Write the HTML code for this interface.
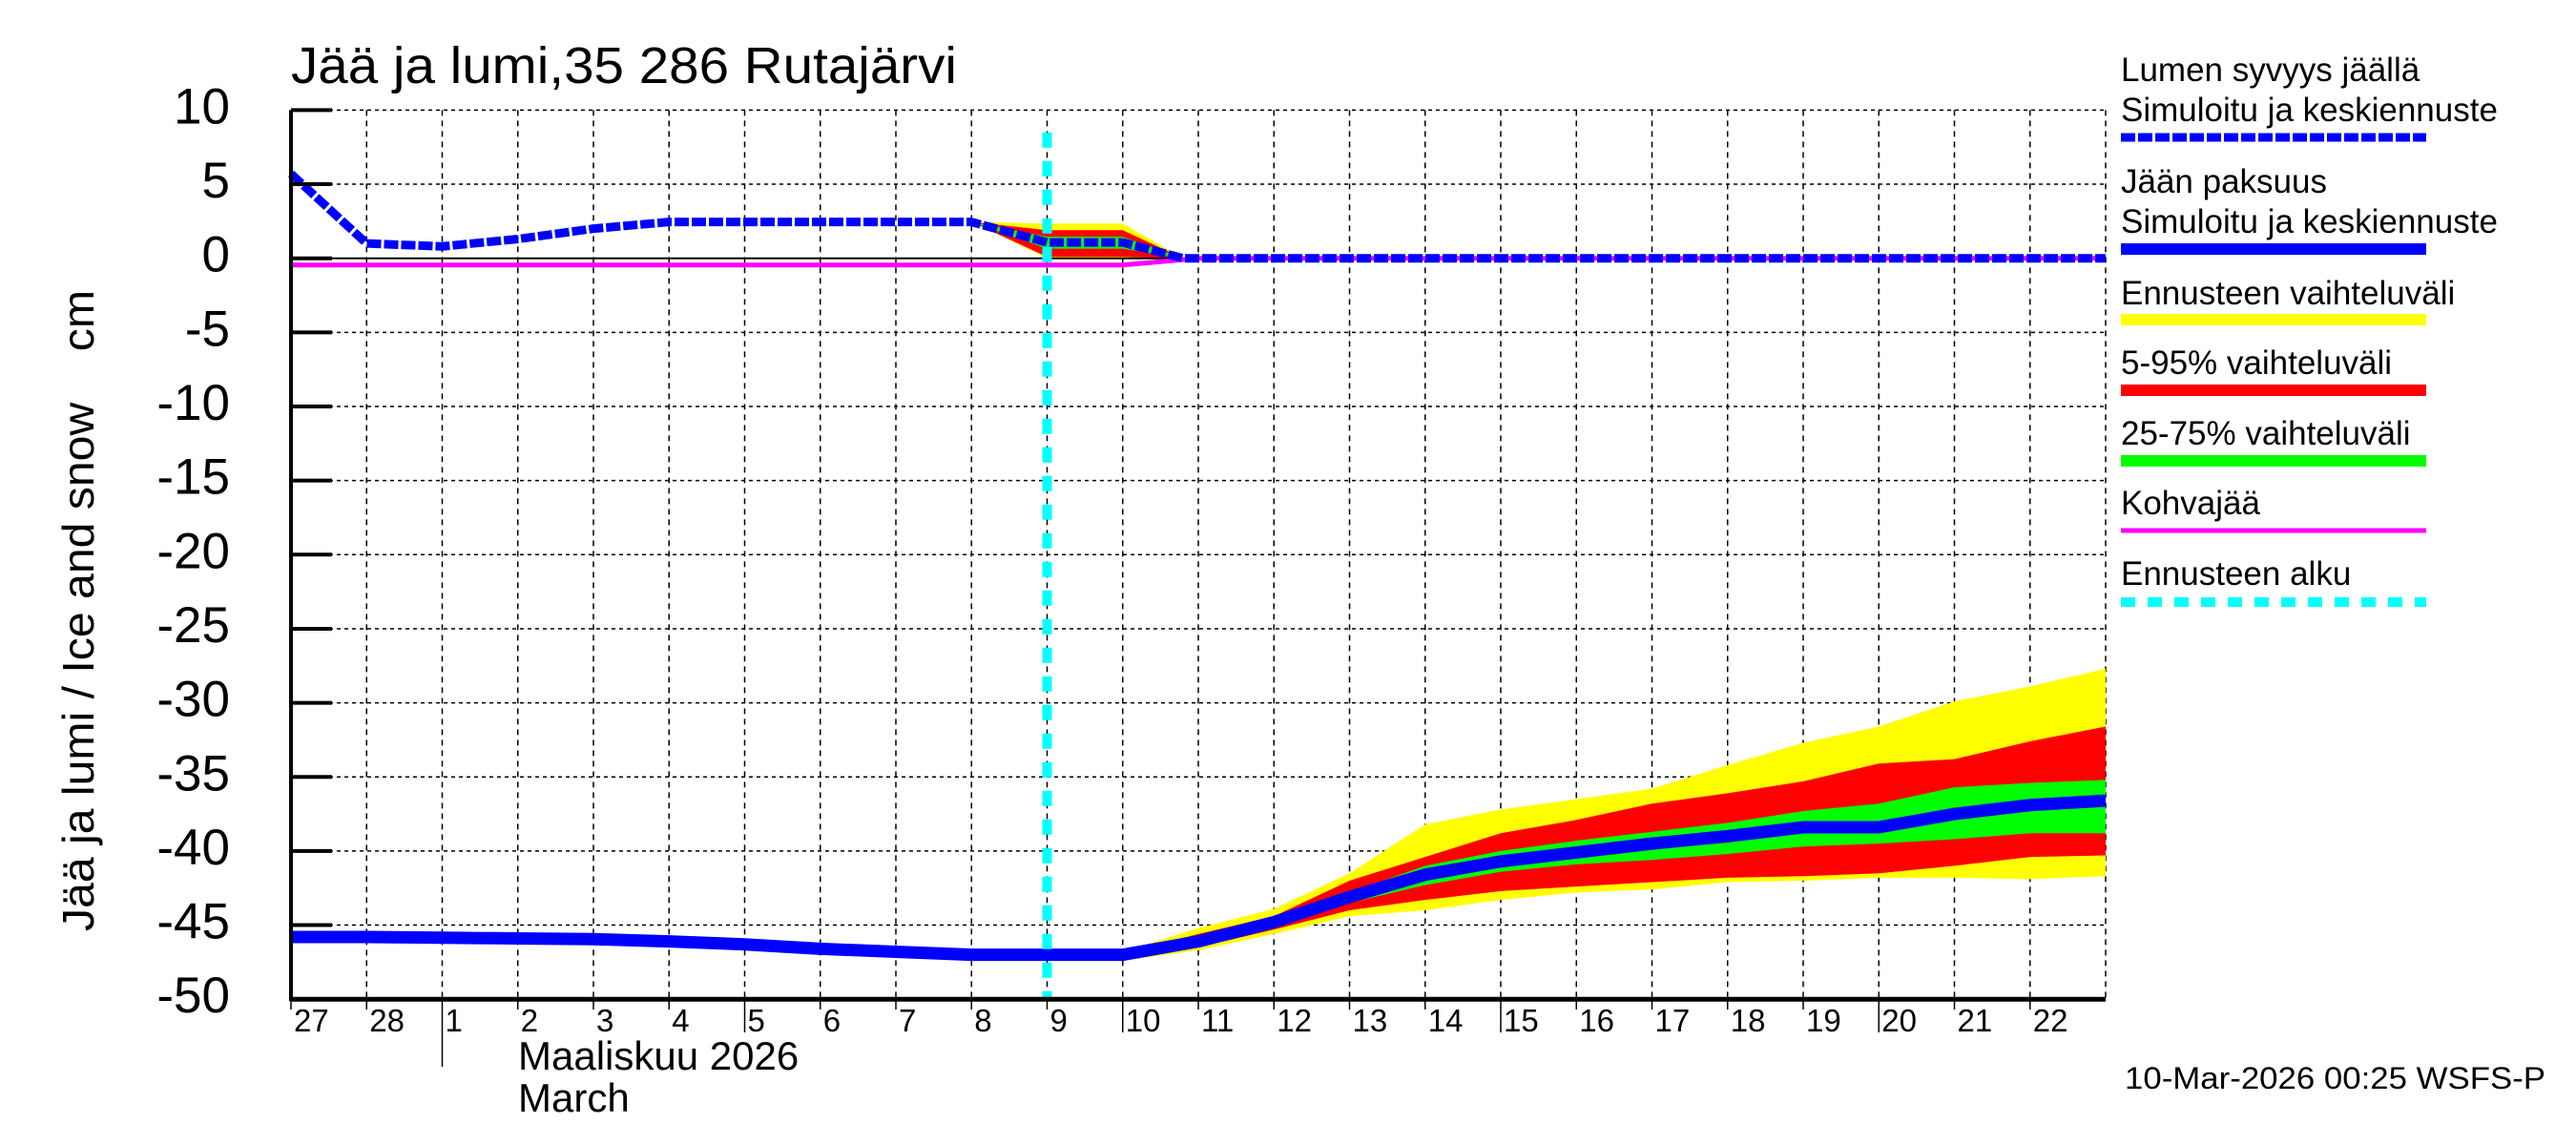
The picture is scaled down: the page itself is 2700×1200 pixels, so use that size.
<!DOCTYPE html>
<html><head><meta charset="utf-8"><style>
html,body{margin:0;padding:0;background:#fff;}
svg{display:block;}
text{font-family:"Liberation Sans",sans-serif;fill:#000;}
</style></head><body>
<svg id="chart" width="2700" height="1200" viewBox="0 0 2700 1200" xmlns="http://www.w3.org/2000/svg">
<text x="305" y="87" font-size="54" textLength="698" lengthAdjust="spacingAndGlyphs">Jää ja lumi,35 286 Rutajärvi</text>
<text transform="translate(98,640) rotate(-90)" text-anchor="middle" font-size="46" textLength="672" lengthAdjust="spacingAndGlyphs" xml:space="preserve">Jää ja lumi / Ice and snow    cm</text>
<g id="grid"></g>
<g id="bands"></g>
<g id="lines"></g>
<g id="axes"></g>
<g id="legend"></g>
<text x="2227" y="1141" font-size="32" textLength="441" lengthAdjust="spacingAndGlyphs">10-Mar-2026 00:25 WSFS-P</text>
</svg>
<script>
const dayLabels=["27","28","1","2","3","4","5","6","7","8","9","10","11","12","13","14","15","16","17","18","19","20","21","22"];
const yTicks=[10,5,0,-5,-10,-15,-20,-25,-30,-35,-40,-45,-50];
// snow depth on ice (days since Feb 27 00:00)
const snowT=[0,1,2,3,4,5,6,7,8,9,10,11,11.8,24];
const snowV=[5.7,1.0,0.8,1.3,2.0,2.45,2.45,2.45,2.45,2.45,1.07,1.07,0,0];
const snowBandT=[9,10,11,11.8];
const snowYelTop=[2.45,2.35,2.35,0];
const snowYelBot=[2.45,0,0,0];
const snowRedTop=[2.45,1.9,1.9,0];
const snowRedBot=[2.45,0.1,0.1,0];
const snowGrnTop=[2.45,1.45,1.45,0];
const snowGrnBot=[2.45,0.65,0.65,0];
// slush ice
const kohvaT=[0,11,12,24];
const kohvaV=[-0.45,-0.45,0,0];
// ice thickness (negative down)
const iceT=[0,1,2,3,4,5,6,7,8,9,10,11,12,13,14,15,16,17,18,19,20,21,22,23,24];
const iceV=[-45.8,-45.8,-45.85,-45.9,-45.95,-46.1,-46.3,-46.6,-46.8,-47.0,-47.0,-47.0,-46.1,-44.8,-43.1,-41.6,-40.7,-40.1,-39.5,-39.0,-38.4,-38.4,-37.5,-36.9,-36.6];
const bandT=[11,12,13,14,15,16,17,18,19,20,21,22,23,24];
const yelTop=[-46.8,-45.2,-43.9,-41.5,-38.2,-37.2,-36.5,-35.8,-34.2,-32.7,-31.6,-29.9,-28.9,-27.7];
const redTop=[-46.9,-45.6,-44.4,-42.0,-40.4,-38.8,-37.9,-36.8,-36.1,-35.3,-34.1,-33.8,-32.6,-31.6];
const grnTop=[-47.0,-45.8,-44.6,-42.8,-41.0,-40.0,-39.3,-38.7,-38.1,-37.3,-36.8,-35.7,-35.4,-35.2];
const grnBot=[-47.2,-46.3,-45.1,-43.5,-42.3,-41.4,-40.9,-40.6,-40.2,-39.7,-39.5,-39.2,-38.8,-38.8];
const redBot=[-47.3,-46.5,-45.3,-44.0,-43.3,-42.7,-42.4,-42.1,-41.8,-41.7,-41.5,-41.0,-40.4,-40.3];
const yelBot=[-47.4,-46.7,-45.6,-44.4,-44.0,-43.3,-42.8,-42.6,-42.1,-42.0,-41.8,-41.8,-41.9,-41.7];
const forecastStart=10;

const X0=305,X1=2207,Y10=115.4,PER=15.53,NDAYS=24;
const xs=t=>X0+(X1-X0)*t/NDAYS;
const ys=v=>Y10+(10-v)*PER;
const NS="http://www.w3.org/2000/svg";
function mk(tag,parent,attrs){const e=document.createElementNS(NS,tag);for(const k in attrs)e.setAttribute(k,attrs[k]);parent.appendChild(e);return e;}
const grid=document.getElementById('grid'),bands=document.getElementById('bands'),lines=document.getElementById('lines'),axes=document.getElementById('axes'),legend=document.getElementById('legend');

// grid
yTicks.forEach(v=>{
  if(v!==-50&&v!==0){const l=mk('line',grid,{x1:X0,x2:X1,y1:ys(v),y2:ys(v),stroke:'#000','stroke-width':1.5,'stroke-dasharray':'4,4'});
  
  }
  const tk=mk('line',axes,{x1:X0,x2:X0+43,y1:ys(v),y2:ys(v),stroke:'#000','stroke-width':4});
  
  
  const t=mk('text',axes,{x:241,y:ys(v)+14,'text-anchor':'end','font-size':53});
  t.textContent=String(v);
  
  
});
for(let d=1;d<=NDAYS;d++){
  const l=mk('line',grid,{x1:xs(d),x2:xs(d),y1:ys(10),y2:ys(-50),stroke:'#000','stroke-width':1.5,'stroke-dasharray':'6,5'});
  
  
}
dayLabels.forEach((s,i)=>{
  const t=mk('text',axes,{x:xs(i)+3,y:1081,'font-size':33});
  t.textContent=s;
  
  
  const long=(s==="5"||s==="10"||s==="15"||s==="20")&&i>1;
  const tk=mk('line',axes,{x1:xs(i),x2:xs(i),y1:ys(-50),y2:s==="1"?1118:(long?1082:1058),stroke:'#000','stroke-width':1.5});
  
  
});
const m1=mk('text',axes,{x:543,y:1121,'font-size':42});m1.textContent='Maaliskuu 2026';


const m2=mk('text',axes,{x:543,y:1165,'font-size':42});m2.textContent='March';



function band(T,top,bot,col,name){
  let d='M'+T.map((t,i)=>xs(t)+','+ys(top[i])).join(' L');
  for(let i=T.length-1;i>=0;i--)d+=' L'+xs(T[i])+','+ys(bot[i]);
  const p=mk('path',bands,{d:d+'Z',fill:col});
  
  
}
band(bandT,yelTop,yelBot,'#ffff00','ice-band-yellow');
band(bandT,redTop,redBot,'#ff0000','ice-band-red');
band(bandT,grnTop,grnBot,'#00ff00','ice-band-green');
band(snowBandT,snowYelTop,snowYelBot,'#ffff00','snow-band-yellow');
band(snowBandT,snowRedTop,snowRedBot,'#ff0000','snow-band-red');
band(snowBandT,snowGrnTop,snowGrnBot,'#00ff00','snow-band-green');

function line(T,V,attrs,name){
  const p=mk('polyline',lines,Object.assign({points:T.map((t,i)=>xs(t)+','+ys(V[i])).join(' '),fill:'none'},attrs));
  
  
}
const zl=mk('line',lines,{x1:X0,x2:X1,y1:ys(0),y2:ys(0),stroke:'#000','stroke-width':2});


line(kohvaT,kohvaV,{stroke:'#ff00ff','stroke-width':5},'kohvajaa-line');
line(iceT,iceV,{stroke:'#0000ff','stroke-width':13},'ice-thickness-line');
line(snowT,snowV,{stroke:'#0000ff','stroke-width':9,'stroke-dasharray':'15,3'},'snow-depth-line');
const cy=mk('line',lines,{x1:xs(forecastStart),x2:xs(forecastStart),y1:ys(8.5),y2:ys(-50),stroke:'#00ffff','stroke-width':10,'stroke-dasharray':'16,14'});



// axes frame
const ax1=mk('line',axes,{x1:X0,x2:X0,y1:ys(10),y2:ys(-50)+2,stroke:'#000','stroke-width':4});


const ax2=mk('line',axes,{x1:X0,x2:X1,y1:ys(-50),y2:ys(-50),stroke:'#000','stroke-width':5});



// legend
const LX=2223,LX2=2543;
const items=[
 {t:['Lumen syvyys jäällä','Simuloitu ja keskiennuste'],ys:[85,127],ly:144,c:'#0000ff',w:9,da:'15,3',n:'legend-snow'},
 {t:['Jään paksuus','Simuloitu ja keskiennuste'],ys:[202,244],ly:261,c:'#0000ff',w:12,da:'',n:'legend-ice'},
 {t:['Ennusteen vaihteluväli'],ys:[319],ly:335,c:'#ffff00',w:12,da:'',n:'legend-range'},
 {t:['5-95% vaihteluväli'],ys:[392],ly:409,c:'#ff0000',w:12,da:'',n:'legend-5-95'},
 {t:['25-75% vaihteluväli'],ys:[466],ly:483,c:'#00ff00',w:12,da:'',n:'legend-25-75'},
 {t:['Kohvajää'],ys:[539],ly:556,c:'#ff00ff',w:5,da:'',n:'legend-kohvajaa'},
 {t:['Ennusteen alku'],ys:[613],ly:631,c:'#00ffff',w:10,da:'15,13',n:'legend-forecast-start'}
];
items.forEach(it=>{
  const g=mk('g',legend,{});
  
  
  it.t.forEach((s,i)=>{const t=mk('text',g,{x:LX,y:it.ys[i],'font-size':35});t.textContent=s;
    
    });
  const a={x1:LX,x2:LX2,y1:it.ly,y2:it.ly,stroke:it.c,'stroke-width':it.w};
  if(it.da)a['stroke-dasharray']=it.da;
  const l=mk('line',g,a);
  
  
});
</script>
</body></html>
